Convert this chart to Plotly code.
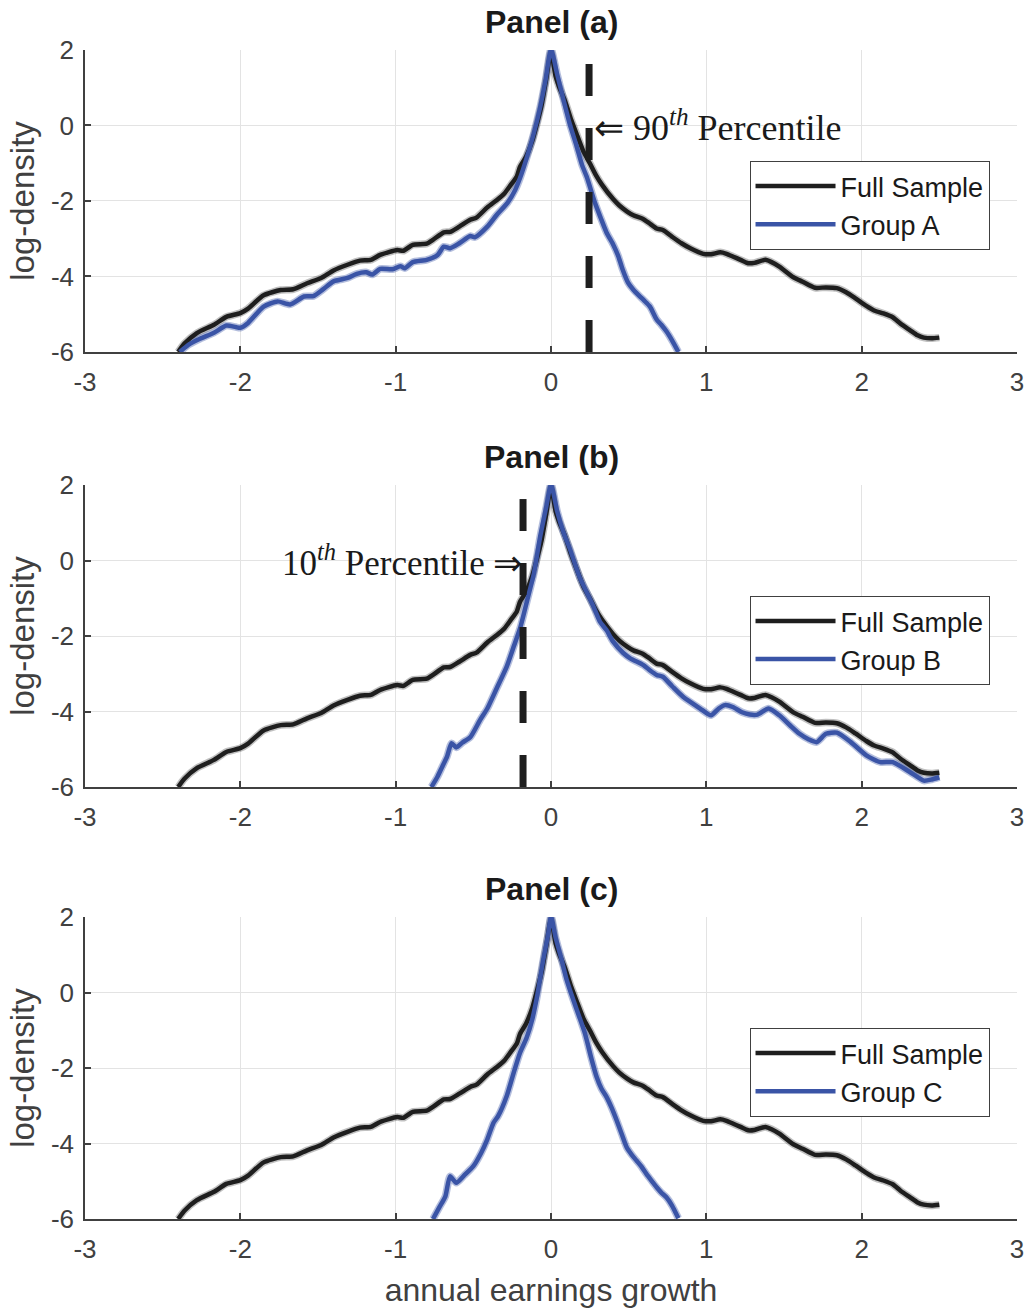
import plotly.graph_objects as go

# ---------------- data ----------------
full_x = [-2.40, -2.36, -2.28, -2.17, -2.09, -2.00, -1.95, -1.85, -1.74, -1.66, -1.57, -1.48,
          -1.40, -1.31, -1.23, -1.16, -1.10, -0.99, -0.95, -0.89, -0.80, -0.76, -0.69, -0.65,
          -0.59, -0.52, -0.48, -0.41, -0.35, -0.30, -0.26, -0.22, -0.20, -0.16, -0.12, -0.09,
          -0.06, -0.03, 0.00, 0.03, 0.05, 0.09, 0.13, 0.17, 0.21, 0.25, 0.29, 0.33, 0.40,
          0.44, 0.49, 0.53, 0.59, 0.63, 0.68, 0.72, 0.78, 0.84, 0.90, 0.98, 1.03, 1.09, 1.13,
          1.17, 1.22, 1.27, 1.31, 1.38, 1.42, 1.47, 1.56, 1.62, 1.70, 1.77, 1.84, 1.90, 1.96,
          2.03, 2.08, 2.14, 2.20, 2.25, 2.31, 2.36, 2.40, 2.45, 2.50]
full_y = [-6.00, -5.78, -5.50, -5.28, -5.07, -4.97, -4.85, -4.50, -4.36, -4.34, -4.18, -4.04,
          -3.84, -3.69, -3.58, -3.56, -3.43, -3.30, -3.32, -3.16, -3.13, -3.03, -2.83, -2.82,
          -2.68, -2.50, -2.44, -2.17, -1.98, -1.80, -1.58, -1.35, -1.10, -0.82, -0.40, 0.05,
          0.55, 1.25, 1.95, 1.30, 1.05, 0.65, 0.15, -0.28, -0.70, -1.00, -1.32, -1.58, -1.95,
          -2.12, -2.28, -2.38, -2.47, -2.58, -2.73, -2.77, -2.95, -3.12, -3.26, -3.40, -3.41,
          -3.36, -3.40, -3.47, -3.56, -3.65, -3.64, -3.56, -3.62, -3.74, -4.02, -4.14, -4.30,
          -4.29, -4.31, -4.42, -4.58, -4.78, -4.90, -4.98, -5.08, -5.25, -5.42, -5.56, -5.62,
          -5.64, -5.62]

groupA_x = [-2.39, -2.33, -2.26, -2.17, -2.09, -2.03, -2.00, -1.95, -1.85, -1.76, -1.68, -1.59,
            -1.53, -1.47, -1.40, -1.31, -1.25, -1.19, -1.15, -1.10, -1.02, -0.97, -0.94, -0.89,
            -0.80, -0.73, -0.69, -0.65, -0.59, -0.52, -0.49, -0.41, -0.35, -0.28, -0.23, -0.20,
            -0.156, -0.11, -0.07, -0.035, 0.00, 0.04, 0.08, 0.12, 0.165, 0.20, 0.23, 0.283,
            0.32, 0.358, 0.40, 0.433, 0.46, 0.497, 0.53, 0.57, 0.60, 0.637, 0.68, 0.71, 0.744,
            0.78, 0.82]
groupA_y = [-6.00, -5.80, -5.65, -5.49, -5.30, -5.34, -5.36, -5.23, -4.80, -4.66, -4.74, -4.53,
            -4.52, -4.35, -4.13, -4.04, -3.93, -3.89, -3.95, -3.80, -3.81, -3.73, -3.78, -3.62,
            -3.56, -3.43, -3.21, -3.25, -3.12, -2.93, -2.96, -2.68, -2.37, -2.05, -1.70, -1.40,
            -0.85, -0.20, 0.48, 1.20, 2.02, 1.35, 0.69, 0.05, -0.55, -1.05, -1.36, -2.05,
            -2.45, -2.84, -3.15, -3.46, -3.80, -4.17, -4.35, -4.52, -4.64, -4.80, -5.14, -5.28,
            -5.46, -5.70, -6.00]

groupB_x = [-0.77, -0.73, -0.70, -0.67, -0.64, -0.61, -0.57, -0.52, -0.456, -0.41, -0.35,
            -0.285, -0.24, -0.196, -0.153, -0.11, -0.07, -0.03, 0.00, 0.04, 0.08, 0.122, 0.186,
            0.272, 0.315, 0.358, 0.40, 0.465, 0.51, 0.595, 0.64, 0.68, 0.72, 0.78, 0.85, 0.96,
            1.03, 1.08, 1.12, 1.17, 1.23, 1.28, 1.33, 1.40, 1.47, 1.54, 1.60, 1.66, 1.71, 1.77,
            1.84, 1.93, 2.03, 2.12, 2.20, 2.31, 2.40, 2.45, 2.50]
groupB_y = [-6.00, -5.72, -5.46, -5.20, -4.84, -4.95, -4.82, -4.68, -4.22, -3.92, -3.39,
            -2.81, -2.28, -1.75, -1.05, -0.34, 0.63, 1.43, 2.02, 1.30, 0.75, 0.30, -0.46,
            -1.20, -1.62, -1.85, -2.15, -2.45, -2.59, -2.77, -2.92, -3.03, -3.08, -3.33, -3.61,
            -3.92, -4.10, -3.92, -3.83, -3.88, -4.02, -4.08, -4.08, -3.92, -4.10, -4.37, -4.59,
            -4.74, -4.81, -4.59, -4.56, -4.81, -5.16, -5.34, -5.34, -5.60, -5.83, -5.80, -5.74]

groupC_x = [-0.76, -0.72, -0.68, -0.65, -0.61, -0.56, -0.50, -0.45, -0.41, -0.37, -0.34,
            -0.285, -0.24, -0.20, -0.157, -0.12, -0.09, -0.05, -0.02, 0.00, 0.03, 0.069, 0.10,
            0.144, 0.18, 0.219, 0.26, 0.294, 0.325, 0.358, 0.39, 0.423, 0.455, 0.487, 0.52,
            0.55, 0.58, 0.615, 0.65, 0.68, 0.71, 0.744, 0.78, 0.82]
groupC_y = [-6.00, -5.70, -5.40, -4.87, -5.04, -4.85, -4.60, -4.25, -3.89, -3.45, -3.27,
            -2.74, -2.12, -1.60, -1.20, -0.70, -0.11, 0.86, 1.50, 2.02, 1.45, 0.86, 0.35,
            -0.20, -0.62, -1.09, -1.75, -2.24, -2.55, -2.77, -3.05, -3.39, -3.75, -4.10, -4.30,
            -4.45, -4.60, -4.81, -5.00, -5.16, -5.30, -5.43, -5.65, -5.98]

P90 = 0.245
P10 = -0.18

x_ticks = [-3, -2, -1, 0, 1, 2, 3]
x_ticklabels = ["-3", "-2", "-1", "0", "1", "2", "3"]
y_ticks = [-6, -4, -2, 0, 2]
y_ticklabels = ["-6", "-4", "-2", "0", "2"]

panel_titles = ["Panel (a)", "Panel (b)", "Panel (c)"]
group_names = ["Group A", "Group B", "Group C"]
groups_x = [groupA_x, groupB_x, groupC_x]
groups_y = [groupA_y, groupB_y, groupC_y]

# ---------------- styling ----------------
BLACK = "#1e1e1e"
BLUE = "#3a54a6"
AXCOL = "#404040"
GRID = "#e3e3e3"
SANS = "Liberation Sans, Arial, sans-serif"
SERIF = "Liberation Serif, Times New Roman, serif"

domains = [[0.7417, 1.0], [0.3695, 0.6279], [0.0, 0.2583]]
legend_tops = [0.905, 0.533, 0.1634]
title_ys = [1.024, 0.6518, 0.2823]

fig = go.Figure()

for i in range(3):
    xa = "x" if i == 0 else f"x{i+1}"
    ya = "y" if i == 0 else f"y{i+1}"
    lg = "legend" if i == 0 else f"legend{i+1}"
    # faint confidence bands (under-lays)
    fig.add_trace(go.Scatter(x=full_x, y=full_y, mode="lines", xaxis=xa, yaxis=ya,
                             line=dict(color="rgba(30,30,30,0.28)", width=7.5,
                                       shape="spline", smoothing=0.6),
                             showlegend=False, hoverinfo="skip"))
    fig.add_trace(go.Scatter(x=groups_x[i], y=groups_y[i], mode="lines", xaxis=xa, yaxis=ya,
                             line=dict(color="rgba(58,84,166,0.38)", width=7.5,
                                       shape="spline", smoothing=0.6),
                             showlegend=False, hoverinfo="skip"))
    fig.add_trace(go.Scatter(x=full_x, y=full_y, mode="lines", name="Full Sample",
                             xaxis=xa, yaxis=ya, legend=lg,
                             line=dict(color=BLACK, width=4.5, shape="spline", smoothing=0.6)))
    fig.add_trace(go.Scatter(x=groups_x[i], y=groups_y[i], mode="lines", name=group_names[i],
                             xaxis=xa, yaxis=ya, legend=lg,
                             line=dict(color=BLUE, width=4.5, shape="spline", smoothing=0.6)))

# percentile lines
fig.add_trace(go.Scatter(x=[P90, P90], y=[-6, 2], mode="lines", xaxis="x", yaxis="y",
                         line=dict(color=BLACK, width=7, dash="32px,32px"),
                         showlegend=False, hoverinfo="skip"))
fig.add_trace(go.Scatter(x=[P10, P10], y=[-6, 2], mode="lines", xaxis="x2", yaxis="y2",
                         line=dict(color=BLACK, width=7, dash="32px,32px"),
                         showlegend=False, hoverinfo="skip"))

layout = dict(
    width=1029, height=1310, autosize=False,
    margin=dict(l=85, r=12, t=50, b=91),
    paper_bgcolor="white", plot_bgcolor="white",
    font=dict(family=SANS, color=AXCOL),
)

for i in range(3):
    xk = "xaxis" if i == 0 else f"xaxis{i+1}"
    yk = "yaxis" if i == 0 else f"yaxis{i+1}"
    ya = "y" if i == 0 else f"y{i+1}"
    xa = "x" if i == 0 else f"x{i+1}"
    layout[xk] = dict(domain=[0, 1], anchor=ya, range=[-3, 3], automargin=False,
                      tickvals=x_ticks, ticktext=x_ticklabels,
                      showgrid=True, gridcolor=GRID, gridwidth=1, zeroline=False,
                      showline=True, linecolor=AXCOL, linewidth=1.5,
                      ticks="inside", ticklen=6, tickcolor=AXCOL, tickwidth=1.5,
                      tickfont=dict(size=26, color=AXCOL), ticklabelstandoff=6)
    layout[yk] = dict(domain=domains[i], anchor=xa, range=[-6, 2], automargin=False,
                      tickvals=y_ticks, ticktext=y_ticklabels,
                      showgrid=True, gridcolor=GRID, gridwidth=1, zeroline=False,
                      showline=True, linecolor=AXCOL, linewidth=1.5,
                      ticks="inside", ticklen=6, tickcolor=AXCOL, tickwidth=1.5,
                      tickfont=dict(size=26, color=AXCOL), ticklabelstandoff=4,
                      title=dict(text="log-density", font=dict(size=33, color=AXCOL), standoff=6))
    lgk = "legend" if i == 0 else f"legend{i+1}"
    layout[lgk] = dict(x=0.713, y=legend_tops[i], xanchor="left", yanchor="top",
                       bgcolor="white", bordercolor="#404040", borderwidth=1,
                       font=dict(size=27, color="#1a1a1a"), itemwidth=80,
                       tracegroupgap=0)

layout["xaxis3"]["title"] = dict(text="annual earnings growth", font=dict(size=32, color=AXCOL),
                                 standoff=16)

annotations = []
for i in range(3):
    annotations.append(dict(text=f"<b>{panel_titles[i]}</b>", xref="paper", yref="paper",
                            x=0.5, y=title_ys[i], xanchor="center", yanchor="middle",
                            showarrow=False, font=dict(size=32, color="#1a1a1a", family=SANS)))
annotations.append(dict(text="\u21d0 90<sup><i>th</i></sup> Percentile", xref="x", yref="y",
                        x=P90 + 0.02, y=0.0, xanchor="left", yanchor="middle", showarrow=False,
                        font=dict(size=36, color="#1a1a1a", family=SERIF)))
annotations.append(dict(text="10<sup><i>th</i></sup> Percentile \u21d2", xref="x2", yref="y2",
                        x=P10 + 0.015, y=0.0, xanchor="right", yanchor="middle", showarrow=False,
                        font=dict(size=35, color="#1a1a1a", family=SERIF)))
layout["annotations"] = annotations

fig.update_layout(**layout)
fig.write_html("out.html")
